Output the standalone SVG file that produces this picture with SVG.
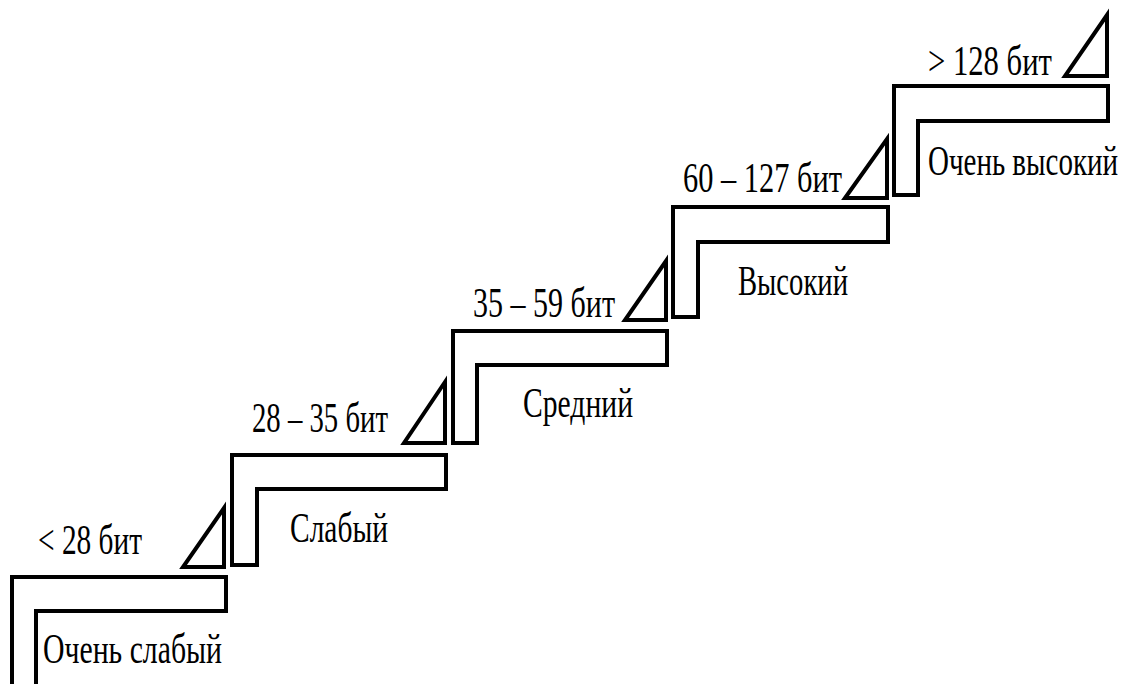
<svg xmlns="http://www.w3.org/2000/svg" width="1126" height="684" viewBox="0 0 1126 684">
  <style>
    .step { fill: none; stroke: #000; stroke-width: 4; stroke-linejoin: miter; }
    .tri { fill: none; stroke: #000; stroke-width: 4; stroke-linejoin: miter; }
    .lbl { font-family: "Liberation Serif", "Times New Roman", serif; font-size: 42px; fill: #000; }
  </style>
  <rect x="0" y="0" width="1126" height="684" fill="#fff"/>

  <!-- Level 1 -->
  <g id="level-very-weak">
    <path class="step" d="M12,577 H226 V611 H36 V700 H12 Z"/>
    <path class="tri" d="M183,567 H224 V508 Z"/>
    <text class="lbl" x="38" y="554" textLength="104" lengthAdjust="spacingAndGlyphs">&lt; 28 бит</text>
    <text class="lbl" x="43" y="663" font-size="43" textLength="179" lengthAdjust="spacingAndGlyphs">Очень слабый</text>
  </g>

  <!-- Level 2 -->
  <g id="level-weak">
    <path class="step" d="M232,455 H446 V489 H257 V565 H232 Z"/>
    <path class="tri" d="M404,443 H445 V382 Z"/>
    <text class="lbl" x="252" y="432" textLength="136" lengthAdjust="spacingAndGlyphs">28 – 35 бит</text>
    <text class="lbl" x="290" y="542" textLength="98" lengthAdjust="spacingAndGlyphs">Слабый</text>
  </g>

  <!-- Level 3 -->
  <g id="level-medium">
    <path class="step" d="M453,331 H667 V365 H477 V443 H453 Z"/>
    <path class="tri" d="M625,320 H666 V261 Z"/>
    <text class="lbl" x="473" y="317" textLength="142" lengthAdjust="spacingAndGlyphs">35 – 59 бит</text>
    <text class="lbl" x="523" y="417" textLength="110" lengthAdjust="spacingAndGlyphs">Средний</text>
  </g>

  <!-- Level 4 -->
  <g id="level-high">
    <path class="step" d="M673,207 H888 V242 H698 V317 H673 Z"/>
    <path class="tri" d="M845,198 H887 V139 Z"/>
    <text class="lbl" x="683" y="192" textLength="159" lengthAdjust="spacingAndGlyphs">60 – 127 бит</text>
    <text class="lbl" x="738" y="295" textLength="110" lengthAdjust="spacingAndGlyphs">Высокий</text>
  </g>

  <!-- Level 5 -->
  <g id="level-very-high">
    <path class="step" d="M894,86 H1108 V121 H918 V195 H894 Z"/>
    <path class="tri" d="M1065,76 H1107 V15 Z"/>
    <text class="lbl" x="928" y="75" textLength="124" lengthAdjust="spacingAndGlyphs">&gt; 128 бит</text>
    <text class="lbl" x="928" y="175" textLength="190" lengthAdjust="spacingAndGlyphs">Очень высокий</text>
  </g>

  <g id="connectors"/>
</svg>
